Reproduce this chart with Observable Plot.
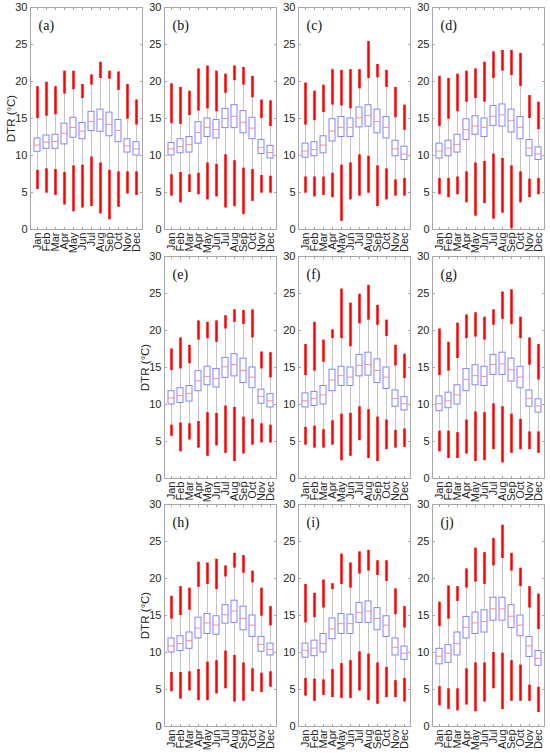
<!DOCTYPE html>
<html>
<head>
<meta charset="utf-8">
<script src="https://cdn.jsdelivr.net/npm/d3@7"></script>
<script src="https://cdn.jsdelivr.net/npm/@observablehq/plot@0.6"></script>
<style>
  html, body { margin: 0; padding: 0; background: #fff; }
  #chart { position: relative; width: 550px; height: 753px; overflow: hidden; }
</style>
</head>
<body>
<div id="chart"></div>
<script>
const months = ["Jan","Feb","Mar","Apr","May","Jun","Jul","Aug","Sep","Oct","Nov","Dec"];
const yTicks = [0, 5, 10, 15, 20, 25, 30];
const yLabel = "DTR (°C)";
// each row: [min, lowerWhisker, q1, median, q3, upperWhisker, max]
const panelA = [
  [5.4, 8.0, 10.5, 11.4, 12.3, 15.0, 19.3],
  [4.9, 8.2, 10.9, 11.8, 12.7, 15.3, 19.9],
  [4.6, 8.1, 10.9, 11.9, 12.8, 15.5, 19.3],
  [3.3, 7.7, 11.5, 13.0, 14.3, 18.3, 21.4],
  [2.4, 8.6, 12.4, 13.8, 15.1, 18.9, 21.4],
  [2.9, 8.7, 12.2, 13.3, 14.4, 17.7, 19.6],
  [3.1, 9.8, 13.3, 14.6, 15.9, 19.5, 20.9],
  [2.1, 9.0, 13.2, 14.9, 16.2, 20.4, 22.6],
  [1.3, 8.0, 12.6, 14.2, 15.8, 20.3, 21.4],
  [3.0, 7.8, 11.8, 13.4, 14.8, 18.8, 21.3],
  [4.8, 7.8, 10.4, 11.3, 12.2, 14.9, 19.6],
  [4.6, 7.8, 10.0, 10.9, 11.8, 14.1, 17.5]
];
const panelB = [
  [4.5, 7.4, 10.0, 10.9, 11.7, 14.3, 19.7],
  [3.6, 7.7, 10.3, 11.2, 12.2, 14.2, 19.2],
  [5.0, 7.4, 10.4, 11.5, 12.5, 15.4, 18.7],
  [4.7, 7.6, 11.6, 13.1, 14.5, 16.0, 21.7],
  [4.0, 9.0, 12.5, 13.8, 15.0, 16.3, 22.1],
  [4.4, 8.8, 12.3, 13.5, 14.8, 15.9, 21.4],
  [2.9, 10.1, 13.7, 15.0, 16.3, 18.4, 21.0],
  [3.1, 9.3, 13.7, 15.3, 16.8, 20.1, 22.1],
  [2.0, 8.3, 13.0, 14.5, 16.0, 19.5, 21.9],
  [3.8, 8.1, 12.2, 13.7, 15.1, 17.8, 20.7],
  [4.9, 7.3, 10.2, 11.1, 12.1, 15.0, 17.5],
  [4.9, 7.2, 9.6, 10.4, 11.3, 13.9, 17.4]
];
const panelC = [
  [4.9, 7.1, 9.7, 10.6, 11.6, 14.1, 19.8],
  [4.4, 7.1, 9.9, 10.8, 11.8, 14.7, 18.7],
  [4.6, 7.1, 10.3, 11.4, 12.6, 15.8, 19.5],
  [4.3, 7.6, 11.9, 13.3, 14.9, 16.8, 21.6],
  [1.1, 8.7, 12.5, 13.8, 15.2, 16.7, 21.5],
  [4.0, 9.0, 12.5, 13.8, 15.0, 16.3, 21.6],
  [4.5, 10.1, 13.8, 15.1, 16.5, 19.0, 21.6],
  [4.9, 9.9, 13.9, 15.4, 16.8, 20.4, 25.4],
  [3.1, 8.6, 13.0, 14.6, 16.2, 20.5, 22.3],
  [4.0, 8.2, 12.3, 13.8, 15.2, 19.2, 21.5],
  [4.5, 6.7, 9.9, 10.9, 12.0, 15.1, 19.2],
  [4.5, 6.9, 9.4, 10.2, 11.2, 13.4, 16.8]
];
const panelD = [
  [4.7, 6.9, 9.6, 10.6, 11.6, 13.9, 20.7],
  [4.3, 6.9, 9.9, 11.0, 12.0, 14.9, 20.4],
  [4.7, 7.1, 10.4, 11.5, 12.8, 15.9, 21.0],
  [3.6, 7.8, 12.1, 13.5, 14.9, 17.2, 21.4],
  [1.8, 9.0, 12.8, 14.0, 15.3, 17.7, 21.7],
  [3.5, 9.2, 12.5, 13.8, 15.0, 17.2, 22.6],
  [1.4, 10.2, 14.0, 15.3, 16.7, 20.4, 24.0],
  [2.2, 9.6, 13.9, 15.5, 16.9, 21.4, 24.2],
  [0.1, 8.6, 13.1, 14.7, 16.2, 20.8, 24.2],
  [3.6, 7.8, 12.2, 13.8, 15.2, 19.3, 23.8],
  [4.3, 6.8, 9.9, 11.0, 12.1, 15.0, 18.1],
  [4.7, 6.9, 9.4, 10.2, 11.1, 13.5, 17.2]
];
const panelE = [
  [5.7, 7.2, 10.0, 10.9, 11.8, 14.6, 17.5],
  [3.6, 7.5, 10.2, 11.2, 12.2, 14.8, 19.0],
  [5.2, 7.4, 10.4, 11.5, 12.5, 15.5, 18.0],
  [4.1, 7.7, 11.8, 13.2, 14.5, 18.7, 21.3],
  [3.0, 8.9, 12.6, 13.8, 15.1, 18.9, 21.1],
  [4.4, 8.8, 12.3, 13.5, 14.8, 18.4, 21.3],
  [3.4, 9.8, 13.6, 15.1, 16.3, 20.2, 22.0],
  [2.3, 9.6, 13.8, 15.4, 16.8, 21.1, 22.8],
  [3.3, 8.3, 12.9, 14.6, 16.2, 20.8, 22.7],
  [4.5, 8.0, 12.2, 13.7, 15.0, 19.0, 22.8],
  [4.8, 7.4, 10.1, 11.1, 12.0, 14.8, 17.1],
  [4.8, 7.2, 9.6, 10.5, 11.4, 13.6, 17.0]
];
const panelF = [
  [4.5, 6.9, 9.6, 10.5, 11.5, 13.9, 18.1],
  [4.1, 7.1, 9.8, 10.8, 11.7, 14.5, 21.1],
  [4.1, 6.6, 10.0, 11.3, 12.5, 15.7, 18.7],
  [4.5, 7.8, 11.8, 13.3, 14.7, 18.9, 20.1],
  [2.4, 8.7, 12.5, 13.9, 15.1, 18.9, 25.6],
  [3.0, 8.8, 12.5, 13.7, 15.0, 17.8, 23.7],
  [5.1, 9.7, 13.8, 15.3, 16.7, 20.9, 24.9],
  [2.7, 9.3, 13.9, 15.4, 17.0, 21.4, 26.1],
  [2.3, 8.3, 12.9, 14.6, 16.1, 20.7, 23.4],
  [3.9, 7.9, 12.1, 13.7, 15.0, 19.2, 21.4],
  [4.1, 6.5, 9.7, 10.8, 11.9, 15.2, 18.0],
  [4.2, 6.7, 9.2, 10.1, 11.0, 13.5, 16.8]
];
const panelG = [
  [3.6, 6.4, 9.1, 10.1, 11.1, 13.9, 20.2],
  [2.7, 6.4, 9.5, 10.5, 11.6, 14.5, 18.4],
  [2.7, 6.2, 10.0, 11.3, 12.6, 16.2, 21.0],
  [3.3, 7.9, 11.8, 13.4, 14.8, 18.9, 22.1],
  [2.3, 9.0, 12.6, 13.9, 15.3, 19.1, 22.4],
  [2.4, 8.9, 12.5, 13.8, 15.1, 18.7, 21.8],
  [3.9, 10.1, 14.0, 15.4, 16.7, 20.7, 22.8],
  [2.1, 9.7, 14.0, 15.5, 17.0, 21.5, 25.2],
  [3.4, 8.7, 13.1, 14.7, 16.2, 20.8, 25.5],
  [3.9, 8.0, 12.2, 13.7, 15.1, 18.9, 21.8],
  [3.9, 6.3, 9.7, 10.8, 11.9, 15.3, 19.0],
  [3.4, 6.3, 8.9, 9.8, 10.7, 13.3, 18.1]
];
const panelH = [
  [4.7, 7.3, 10.0, 10.9, 11.9, 14.5, 17.6],
  [3.7, 7.3, 10.2, 11.2, 12.2, 15.0, 18.9],
  [4.8, 7.4, 10.5, 11.6, 12.7, 15.7, 18.7],
  [3.5, 7.7, 11.9, 13.3, 14.7, 18.8, 22.2],
  [3.5, 8.7, 12.5, 14.0, 15.2, 19.2, 22.1],
  [4.4, 8.9, 12.4, 13.7, 14.9, 18.5, 22.6],
  [5.1, 10.2, 13.9, 15.1, 16.4, 20.2, 21.7],
  [3.3, 9.6, 14.0, 15.6, 17.0, 21.4, 23.4],
  [3.4, 8.6, 13.0, 14.6, 16.2, 20.7, 23.1],
  [4.7, 7.8, 12.1, 13.7, 15.0, 19.4, 21.0],
  [4.6, 7.2, 10.1, 11.1, 12.1, 14.9, 18.7],
  [5.3, 7.4, 9.6, 10.4, 11.2, 13.6, 16.2]
];
const panelI = [
  [4.1, 6.5, 9.3, 10.3, 11.2, 14.0, 19.2],
  [3.4, 6.4, 9.5, 10.6, 11.6, 14.7, 18.0],
  [4.2, 6.3, 10.0, 11.2, 12.5, 16.0, 19.8],
  [3.9, 7.7, 11.8, 13.2, 14.6, 18.5, 19.3],
  [3.8, 8.5, 12.5, 13.9, 15.2, 19.2, 23.3],
  [3.8, 8.9, 12.5, 13.9, 15.1, 18.7, 22.1],
  [4.8, 10.1, 14.0, 15.4, 16.7, 20.6, 23.6],
  [3.5, 9.8, 14.0, 15.6, 16.9, 21.0, 23.8],
  [3.0, 8.6, 13.0, 14.6, 16.0, 20.4, 22.4],
  [3.9, 8.0, 12.1, 13.7, 14.9, 19.6, 22.4],
  [3.9, 6.2, 9.6, 10.7, 11.9, 15.1, 18.6],
  [3.3, 6.5, 9.0, 9.9, 10.8, 13.3, 16.2]
];
const panelJ = [
  [2.8, 5.4, 8.4, 9.5, 10.5, 13.5, 16.8],
  [2.3, 5.1, 8.6, 9.9, 11.0, 14.5, 19.0],
  [2.1, 5.1, 9.6, 11.2, 12.7, 16.9, 18.9],
  [2.9, 7.8, 11.9, 13.4, 14.8, 18.7, 21.3],
  [2.0, 8.6, 12.5, 14.0, 15.4, 19.5, 24.1],
  [3.3, 8.6, 12.7, 14.2, 15.7, 19.2, 23.5],
  [5.1, 10.0, 14.3, 15.9, 17.4, 21.7, 25.4],
  [2.3, 9.9, 14.3, 15.9, 17.4, 22.7, 27.2],
  [3.4, 8.9, 13.3, 14.9, 16.4, 21.0, 23.4],
  [3.4, 8.3, 12.2, 13.7, 15.0, 18.9, 21.4],
  [3.4, 5.6, 9.4, 10.9, 12.1, 16.0, 18.9],
  [1.9, 5.3, 8.2, 9.2, 10.2, 13.1, 17.9]
];
const panelLabels = ["(a)","(b)","(c)","(d)","(e)","(f)","(g)","(h)","(i)","(j)"];
const panelData = [panelA, panelB, panelC, panelD, panelE, panelF, panelG, panelH, panelI, panelJ];
const panelCols = [0, 1, 2, 3, 1, 2, 3, 1, 2, 3];
const panelRows = [0, 0, 0, 0, 1, 1, 1, 2, 2, 2];

// layout
const frameLefts = [30, 164, 298, 432];
const frameTops = [7, 256, 504];
const mL = 30, mR = 4, mT = 7, mB = 26;
const fW = 112, fH = 222;

const chart = document.getElementById("chart");

panelData.forEach((rows, k) => {
  const data = rows.map((r, i) => ({
    month: months[i], min: r[0], wlo: r[1], q1: r[2], med: r[3], q3: r[4], whi: r[5], max: r[6]
  }));
  const showYLabel = panelCols[k] === 0 || (panelCols[k] === 1 && panelRows[k] > 0);
  const blank = () => "";
  const marks = [
    Plot.frame({stroke: "#a8a8a8", strokeWidth: 1}),
    Plot.axisY({ticks: yTicks, anchor: "left", tickSize: 0, tickPadding: 3, label: null, fill: "#262626"}),
    Plot.axisY({ticks: yTicks, anchor: "left", tickSize: -3, tickFormat: blank, label: null, stroke: "#a8a8a8"}),
    Plot.axisY({ticks: yTicks, anchor: "right", tickSize: -3, tickFormat: blank, label: null, stroke: "#a8a8a8"}),
    Plot.axisX({anchor: "bottom", tickRotate: -90, tickSize: 0, tickPadding: 3, label: null, fill: "#262626"}),
    Plot.axisX({anchor: "bottom", tickSize: -2, tickFormat: blank, label: null, stroke: "#a8a8a8"}),
    Plot.axisX({anchor: "top", tickSize: -2, tickFormat: blank, label: null, stroke: "#a8a8a8"}),
    // whiskers
    Plot.ruleX(data, {x: "month", y1: "wlo", y2: "q1", stroke: "#c4c4c4", strokeWidth: 1}),
    Plot.ruleX(data, {x: "month", y1: "q3", y2: "whi", stroke: "#c4c4c4", strokeWidth: 1}),
    // outliers (dense red markers)
    Plot.ruleX(data, {x: "month", y1: "min", y2: "wlo", stroke: "#ff0000", strokeWidth: 2.5}),
    Plot.ruleX(data, {x: "month", y1: "whi", y2: "max", stroke: "#ff0000", strokeWidth: 2.5}),
    // boxes
    Plot.barY(data, {x: "month", y1: "q1", y2: "q3", fill: "white", stroke: "#8484ff", strokeWidth: 1}),
    Plot.tickY(data, {x: "month", y: "med", stroke: "#ff8a8a", strokeWidth: 1}),
    Plot.text([panelLabels[k]], {
      text: d => d, frameAnchor: "top-left", dx: 8, dy: 13, textAnchor: "start",
      fontFamily: "Liberation Serif, Times New Roman, serif", fontSize: 14, fill: "#111"
    })
  ];
  if (showYLabel) {
    marks.push(Plot.text([yLabel], {
      text: d => d, frameAnchor: "left", dx: -19, rotate: -90, textAnchor: "middle",
      fontSize: 11.5, fill: "#262626"
    }));
  }
  const plot = Plot.plot({
    width: mL + fW + mR,
    height: mT + fH + mB,
    marginLeft: mL, marginRight: mR, marginTop: mT, marginBottom: mB,
    style: {fontFamily: "Liberation Sans, Arial, sans-serif", fontSize: "11px", background: "transparent", overflow: "visible"},
    x: {domain: months, paddingInner: 0.34, paddingOuter: 0.17},
    y: {domain: [0, 30]},
    marks
  });
  plot.style.left = (frameLefts[panelCols[k]] - mL) + "px";
  plot.style.top = (frameTops[panelRows[k]] - mT) + "px";
  plot.style.position = "absolute";
  chart.appendChild(plot);
});
</script>
</body>
</html>
